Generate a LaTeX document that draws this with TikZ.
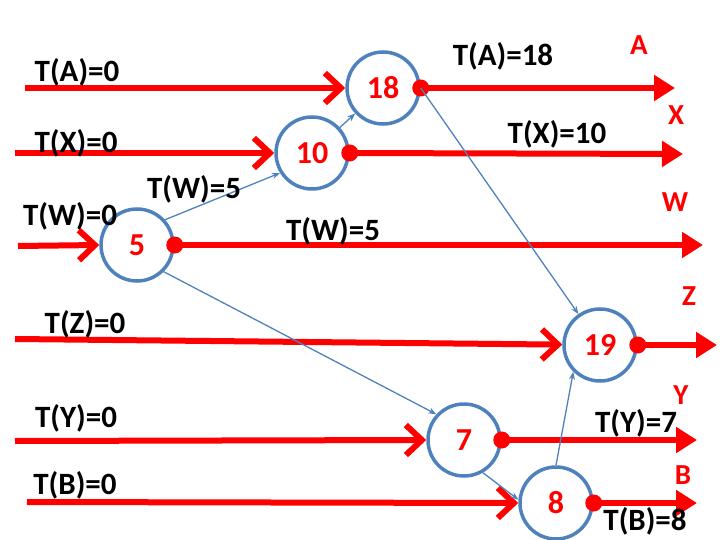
\documentclass[tikz,border=0pt]{standalone}
\usepackage{fontspec}
\setmainfont{Carlito}
\usetikzlibrary{arrows.meta}
\definecolor{cblue}{RGB}{79,129,189}
\definecolor{cred}{RGB}{255,0,0}
\tikzset{
  evt/.style={circle, draw=cblue, line width=3.5pt, minimum size=72pt, inner sep=0pt,
    text=cred, font=\fontsize{32}{36}\selectfont\bfseries},
  rdot/.style={circle, fill=cred, minimum size=17pt, inner sep=0pt},
  inline/.style={draw=cred, line width=6pt, -{Straight Barb[length=16pt,width=30pt]}},
  outline/.style={draw=cred, line width=6pt, -{Triangle[length=21pt,width=25pt]}},
  dep/.style={draw=cblue, line width=1.3pt, -{Stealth[length=8pt,width=6pt]}},
  lbl/.style={font=\fontsize{31}{35}\selectfont\bfseries, inner sep=0pt},
  chan/.style={font=\fontsize{29}{33}\selectfont\bfseries, text=cred, inner sep=0pt}
}
\begin{document}
\begin{tikzpicture}[x=1pt,y=-1pt]
\useasboundingbox (0,0) rectangle (720,540);
% event circles
\node[evt] (c18) at (383,88) {18};
\node[evt] (c10) at (312,153) {10};
\node[evt] (c5)  at (137,245) {5};
\node[evt] (c19) at (600,345) {19};
\node[evt] (c7)  at (464,440) {7};
\node[evt] (c8)  at (556,503) {8};
% start coordinates
\coordinate (a0) at (25,88);
\coordinate (x0) at (15,153);
\coordinate (w0) at (18,246);
\coordinate (z0) at (15,339);
\coordinate (y0) at (15,441);
\coordinate (b0) at (27,502);
% end coordinates
\coordinate (a1) at (675,88);
\coordinate (x1) at (683,154);
\coordinate (w1) at (703,245);
\coordinate (z1) at (717,345);
\coordinate (y1) at (697,440);
\coordinate (b1) at (697,503);
% input lines
\draw[inline] (a0) -- (c18.west);
\draw[inline] (x0) -- (c10.west);
\draw[inline] (w0) -- (c5.west);
\draw[inline] (z0) -- (c19);
\draw[inline] (y0) -- (c7.west);
\draw[inline] (b0) -- (c8.west);
% dots
\node[rdot] (d18) at (c18.east) {};
\node[rdot] (d10) at (c10.east) {};
\node[rdot] (d5)  at (c5.east) {};
\node[rdot] (d19) at (c19.east) {};
\node[rdot] (d7)  at (c7.east) {};
\node[rdot] (d8)  at (c8.east) {};
% output lines
\draw[outline] (d18.center) -- (a1);
\draw[outline] (d10.center) -- (x1);
\draw[outline] (d5.center) -- (w1);
\draw[outline] (d19.center) -- (z1);
\draw[outline] (d7.center) -- (y1);
\draw[outline] (d8.center) -- (b1);
% dependency arrows
\draw[dep] (c5.42) -- (c10.212);
\draw[dep] (c10) -- (c18);
\draw[dep] (d18.center) -- (c19);
\draw[dep] (c5.-45) -- (c7.137);
\draw[dep] (c7.-60) -- (c8.175);
\draw[dep] (c8.north) -- (c19.225);
% labels
\node[lbl] (la0) at (77,72) {T(A)=0};
\node[lbl] (lx0) at (76,143) {T(X)=0};
\node[lbl] (lw5a) at (194,189) {T(W)=5};
\node[lbl] (lw0) at (70,216) {T(W)=0};
\node[lbl] (lw5b) at (333,231) {T(W)=5};
\node[lbl] (la18) at (503,56) {T(A)=18};
\node[lbl] (lx10) at (557,134) {T(X)=10};
\node[lbl] (lz0) at (85,324) {T(Z)=0};
\node[lbl] (ly0) at (76,418) {T(Y)=0};
\node[lbl] (lb0) at (75,485) {T(B)=0};
\node[lbl] (ly7) at (636,423) {T(Y)=7};
\node[lbl] (lb8) at (645,521) {T(B)=8};
% channel names
\node[chan] (nA) at (639,45) {A};
\node[chan] (nX) at (676,115) {X};
\node[chan] (nW) at (675,202) {W};
\node[chan] (nZ) at (689,296) {Z};
\node[chan] (nY) at (681,395) {Y};
\node[chan] (nB) at (683,475) {B};
\end{tikzpicture}
\end{document}
